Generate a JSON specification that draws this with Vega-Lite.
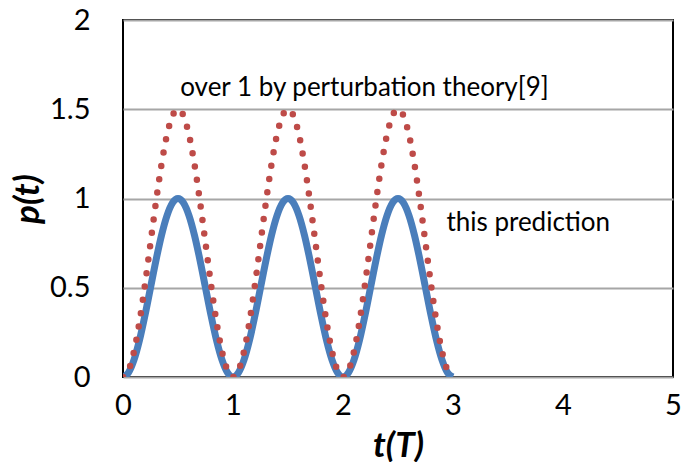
{
  "$schema": "https://vega.github.io/schema/vega-lite/v6.json",
  "width": 550,
  "height": 357,
  "autosize": {"type": "none"},
  "padding": {"left": 123, "top": 20, "right": 8, "bottom": 85},
  "background": "white",
  "config": {
    "view": {"stroke": "#000000", "strokeWidth": 2},
    "font": "Lato"
  },
  "datasets": {
    "prediction": [
      {"t": 0, "p": 0}, {"t": 0.05, "p": 0.02447}, {"t": 0.1, "p": 0.09549}, {"t": 0.15, "p": 0.20611}, {"t": 0.2, "p": 0.34549}, {"t": 0.25, "p": 0.5}, {"t": 0.3, "p": 0.65451}, {"t": 0.35, "p": 0.79389}, {"t": 0.4, "p": 0.90451}, {"t": 0.45, "p": 0.97553}, {"t": 0.5, "p": 1},
      {"t": 0.55, "p": 0.97553}, {"t": 0.6, "p": 0.90451}, {"t": 0.65, "p": 0.79389}, {"t": 0.7, "p": 0.65451}, {"t": 0.75, "p": 0.5}, {"t": 0.8, "p": 0.34549}, {"t": 0.85, "p": 0.20611}, {"t": 0.9, "p": 0.09549}, {"t": 0.95, "p": 0.02447}, {"t": 1, "p": 0},
      {"t": 1.05, "p": 0.02447}, {"t": 1.1, "p": 0.09549}, {"t": 1.15, "p": 0.20611}, {"t": 1.2, "p": 0.34549}, {"t": 1.25, "p": 0.5}, {"t": 1.3, "p": 0.65451}, {"t": 1.35, "p": 0.79389}, {"t": 1.4, "p": 0.90451}, {"t": 1.45, "p": 0.97553}, {"t": 1.5, "p": 1},
      {"t": 1.55, "p": 0.97553}, {"t": 1.6, "p": 0.90451}, {"t": 1.65, "p": 0.79389}, {"t": 1.7, "p": 0.65451}, {"t": 1.75, "p": 0.5}, {"t": 1.8, "p": 0.34549}, {"t": 1.85, "p": 0.20611}, {"t": 1.9, "p": 0.09549}, {"t": 1.95, "p": 0.02447}, {"t": 2, "p": 0},
      {"t": 2.05, "p": 0.02447}, {"t": 2.1, "p": 0.09549}, {"t": 2.15, "p": 0.20611}, {"t": 2.2, "p": 0.34549}, {"t": 2.25, "p": 0.5}, {"t": 2.3, "p": 0.65451}, {"t": 2.35, "p": 0.79389}, {"t": 2.4, "p": 0.90451}, {"t": 2.45, "p": 0.97553}, {"t": 2.5, "p": 1},
      {"t": 2.55, "p": 0.97553}, {"t": 2.6, "p": 0.90451}, {"t": 2.65, "p": 0.79389}, {"t": 2.7, "p": 0.65451}, {"t": 2.75, "p": 0.5}, {"t": 2.8, "p": 0.34549}, {"t": 2.85, "p": 0.20611}, {"t": 2.9, "p": 0.09549}, {"t": 2.95, "p": 0.02447}, {"t": 3, "p": 0}
    ],
    "perturbation": [
      {"t": 0, "p": 0}, {"t": 0.05, "p": 0.0367}, {"t": 0.1, "p": 0.1432}, {"t": 0.15, "p": 0.3092}, {"t": 0.2, "p": 0.5182}, {"t": 0.25, "p": 0.75}, {"t": 0.3, "p": 0.9818}, {"t": 0.35, "p": 1.1908}, {"t": 0.4, "p": 1.3568}, {"t": 0.45, "p": 1.4633}, {"t": 0.5, "p": 1.5},
      {"t": 0.55, "p": 1.4633}, {"t": 0.6, "p": 1.3568}, {"t": 0.65, "p": 1.1908}, {"t": 0.7, "p": 0.9818}, {"t": 0.75, "p": 0.75}, {"t": 0.8, "p": 0.5182}, {"t": 0.85, "p": 0.3092}, {"t": 0.9, "p": 0.1432}, {"t": 0.95, "p": 0.0367}, {"t": 1, "p": 0},
      {"t": 1.05, "p": 0.0367}, {"t": 1.1, "p": 0.1432}, {"t": 1.15, "p": 0.3092}, {"t": 1.2, "p": 0.5182}, {"t": 1.25, "p": 0.75}, {"t": 1.3, "p": 0.9818}, {"t": 1.35, "p": 1.1908}, {"t": 1.4, "p": 1.3568}, {"t": 1.45, "p": 1.4633}, {"t": 1.5, "p": 1.5},
      {"t": 1.55, "p": 1.4633}, {"t": 1.6, "p": 1.3568}, {"t": 1.65, "p": 1.1908}, {"t": 1.7, "p": 0.9818}, {"t": 1.75, "p": 0.75}, {"t": 1.8, "p": 0.5182}, {"t": 1.85, "p": 0.3092}, {"t": 1.9, "p": 0.1432}, {"t": 1.95, "p": 0.0367}, {"t": 2, "p": 0},
      {"t": 2.05, "p": 0.0367}, {"t": 2.1, "p": 0.1432}, {"t": 2.15, "p": 0.3092}, {"t": 2.2, "p": 0.5182}, {"t": 2.25, "p": 0.75}, {"t": 2.3, "p": 0.9818}, {"t": 2.35, "p": 1.1908}, {"t": 2.4, "p": 1.3568}, {"t": 2.45, "p": 1.4633}, {"t": 2.5, "p": 1.5},
      {"t": 2.55, "p": 1.4633}, {"t": 2.6, "p": 1.3568}, {"t": 2.65, "p": 1.1908}, {"t": 2.7, "p": 0.9818}, {"t": 2.75, "p": 0.75}, {"t": 2.8, "p": 0.5182}, {"t": 2.85, "p": 0.3092}, {"t": 2.9, "p": 0.1432}, {"t": 2.95, "p": 0.0367}, {"t": 3, "p": 0}
    ],
    "notes": [
      {"t": 0.52, "p": 1.62, "label": "over 1 by perturbation theory[9]"},
      {"t": 2.94, "p": 0.86, "label": "this prediction"}
    ]
  },
  "encoding": {
    "x": {
      "field": "t", "type": "quantitative",
      "scale": {"domain": [0, 5], "nice": false, "zero": false},
      "axis": {
        "title": "t(T)", "values": [0, 1, 2, 3, 4, 5], "format": "~g", "grid": false, "ticks": false, "domain": false,
        "labelFlush": false, "labelOverlap": false,
        "labelFontSize": 29, "labelColor": "#000000", "labelPadding": 14, "labelFont": "Lato",
        "titleFontSize": 35, "titleFontStyle": "italic", "titleFontWeight": "bold", "titleColor": "#000000", "titlePadding": 8, "titleFont": "Lato"
      }
    },
    "y": {
      "field": "p", "type": "quantitative",
      "scale": {"domain": [0, 2], "nice": false},
      "axis": {
        "title": "p(t)", "values": [0, 0.5, 1, 1.5, 2], "format": "~g", "grid": true, "gridColor": "#A6A6A6", "gridWidth": 2,
        "ticks": false, "domain": false,
        "labelFlush": false, "labelOverlap": false,
        "labelFontSize": 29, "labelColor": "#000000", "labelPadding": 33, "labelFont": "Lato",
        "titleFontSize": 35, "titleFontStyle": "italic", "titleFontWeight": "bold", "titleColor": "#000000", "titlePadding": 4, "titleFont": "Lato"
      }
    }
  },
  "layer": [
    {
      "data": {"name": "prediction"},
      "mark": {"type": "line", "color": "#4A7EBB", "strokeWidth": 7, "interpolate": "monotone", "clip": true}
    },
    {
      "data": {"name": "perturbation"},
      "mark": {"type": "line", "color": "#BE4B48", "strokeWidth": 6.5, "strokeDash": [0, 13.5], "strokeCap": "round", "interpolate": "monotone", "clip": true}
    },
    {
      "data": {"name": "notes"},
      "mark": {"type": "text", "align": "left", "baseline": "middle", "fontSize": 26, "font": "Lato", "color": "#000000"},
      "encoding": {"text": {"field": "label"}}
    }
  ]
}
